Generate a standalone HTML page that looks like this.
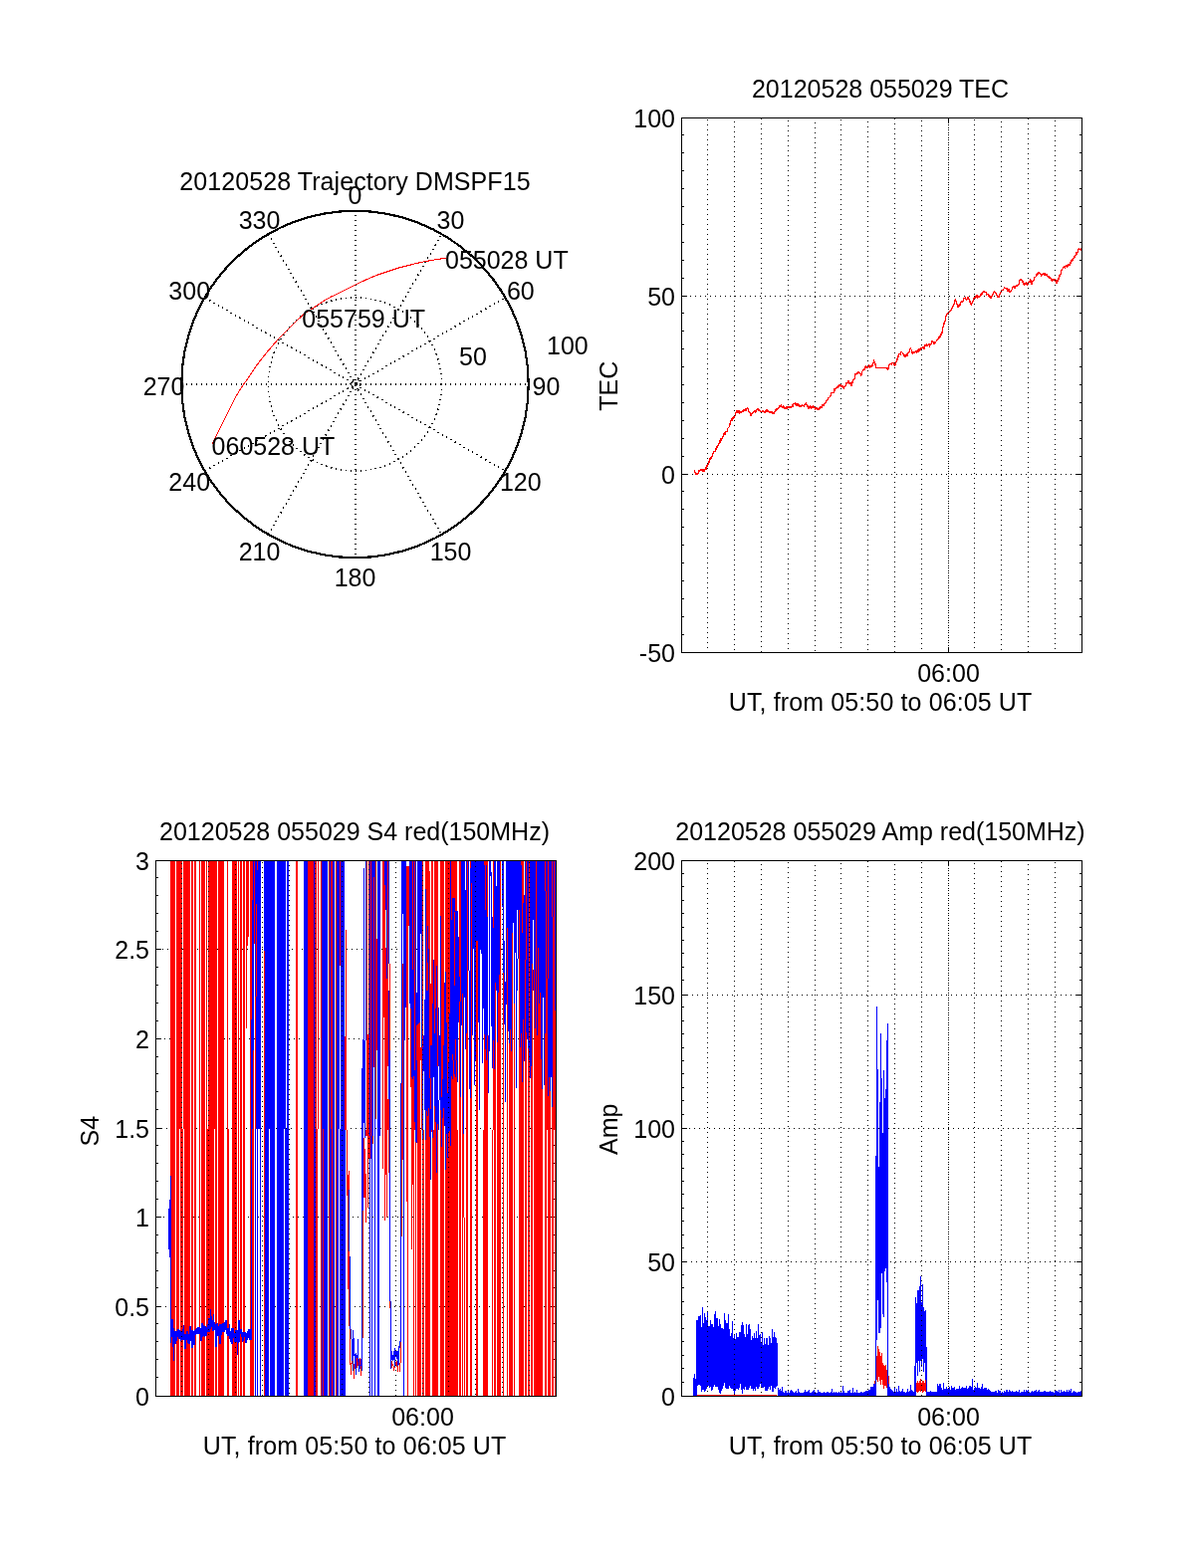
<!DOCTYPE html>
<html lang="en">
<head>
<meta charset="utf-8">
<title>20120528 055029 DMSPF15</title>
<style>
html,body{margin:0;padding:0;background:#fff;}
body{width:1200px;height:1575px;overflow:hidden;}
svg{display:block;font-family:"Liberation Sans",Arial,Helvetica,sans-serif;fill:#000;}
.c{shape-rendering:crispEdges;}
</style>
</head>
<body>
<svg width="1200" height="1575" viewBox="0 0 1200 1575" class="c">
<rect x="0" y="0" width="1200" height="1575" fill="#fff"/>
<line x1="357" y1="216" x2="357" y2="559" stroke="#000" stroke-width="2" stroke-dasharray="1 4"/>
<line x1="269.40" y1="536.86" x2="443.60" y2="235.14" stroke="#000" stroke-width="1.5" stroke-dasharray="1.4 3.6"/>
<line x1="205.64" y1="473.10" x2="507.36" y2="298.90" stroke="#000" stroke-width="1.5" stroke-dasharray="1.4 3.6"/>
<line x1="187" y1="386" x2="530" y2="386" stroke="#000" stroke-width="2" stroke-dasharray="1 4"/>
<line x1="205.64" y1="298.90" x2="507.36" y2="473.10" stroke="#000" stroke-width="1.5" stroke-dasharray="1.4 3.6"/>
<line x1="269.40" y1="235.14" x2="443.60" y2="536.86" stroke="#000" stroke-width="1.5" stroke-dasharray="1.4 3.6"/>
<circle cx="356.5" cy="386.0" r="87.10" fill="none" stroke="#000" stroke-width="1.5" stroke-dasharray="1.4 3.6"/>
<circle cx="357" cy="386" r="5" fill="none" stroke="#000" stroke-width="1.2" stroke-dasharray="2 3"/>
<rect x="356" y="384" width="3" height="3" fill="#000"/>
<circle cx="356.5" cy="386.0" r="174.2" fill="none" stroke="#000" stroke-width="2.2"/>
<path d="M447.5 259.2 L445.1 259.6 L441.8 260.1 L437.8 260.7 L433.7 261.4 L429.7 262.1 L426.3 262.7 L423.5 263.3 L420.9 263.9 L418.5 264.4 L416.2 265.0 L414.0 265.6 L411.7 266.2 L409.5 266.7 L407.5 267.2 L405.5 267.7 L403.5 268.2 L401.1 268.9 L398.3 269.7 L394.9 270.8 L391.1 272.1 L386.9 273.5 L382.7 274.9 L378.7 276.4 L375.0 277.8 L371.7 279.2 L368.6 280.5 L365.6 281.9 L362.7 283.2 L359.9 284.6 L357.0 286.0 L354.1 287.4 L351.1 288.9 L348.1 290.4 L345.3 291.9 L342.5 293.3 L340.0 294.6 L337.8 295.7 L335.8 296.6 L333.9 297.4 L332.1 298.3 L330.2 299.3 L328.0 300.5 L325.5 302.0 L322.7 303.8 L319.8 305.7 L316.9 307.6 L314.3 309.4 L312.0 311.0 L310.3 312.1 L309.1 312.8 L308.1 313.3 L307.0 314.1 L305.5 315.3 L303.3 317.2 L300.2 320.0 L296.5 323.5 L292.4 327.5 L288.1 331.7 L283.9 335.9 L280.0 340.0 L276.4 344.0 L272.8 348.2 L269.2 352.4 L265.9 356.5 L262.8 360.4 L260.0 364.0 L257.6 367.2 L255.4 370.3 L253.6 373.1 L251.9 375.6 L250.4 377.9 L249.0 380.0 L247.9 381.6 L247.0 382.8 L246.3 383.7 L245.7 384.6 L244.9 385.6 L244.0 387.0 L242.9 388.7 L241.7 390.5 L240.4 392.4 L239.1 394.6 L237.6 397.1 L236.0 400.0 L234.2 403.4 L232.2 407.4 L230.1 411.7 L227.9 416.0 L225.9 420.2 L224.0 424.0 L222.2 427.5 L220.5 430.9 L218.8 434.2 L217.3 437.2 L216.0 439.9 L215.0 442.0 L214.3 443.6 L213.9 444.7 L213.7 445.4 L213.7 445.8 L213.7 446.2 L213.6 446.5" fill="none" stroke="#f00" stroke-width="1.1"/>
<text x="356.5" y="204.5" text-anchor="middle" font-size="25">0</text>
<text x="452.5" y="230.2" text-anchor="middle" font-size="25">30</text>
<text x="522.8" y="300.5" text-anchor="middle" font-size="25">60</text>
<text x="548.5" y="396.5" text-anchor="middle" font-size="25">90</text>
<text x="522.8" y="492.5" text-anchor="middle" font-size="25">120</text>
<text x="452.5" y="562.8" text-anchor="middle" font-size="25">150</text>
<text x="356.5" y="588.5" text-anchor="middle" font-size="25">180</text>
<text x="260.5" y="562.8" text-anchor="middle" font-size="25">210</text>
<text x="190.2" y="492.5" text-anchor="middle" font-size="25">240</text>
<text x="164.5" y="396.5" text-anchor="middle" font-size="25">270</text>
<text x="190.2" y="300.5" text-anchor="middle" font-size="25">300</text>
<text x="260.5" y="230.2" text-anchor="middle" font-size="25">330</text>
<text x="461.0" y="367.0" text-anchor="start" font-size="25">50</text>
<text x="549.0" y="356.0" text-anchor="start" font-size="25">100</text>
<text x="447.0" y="269.8" text-anchor="start" font-size="25">055028 UT</text>
<text x="303.3" y="329.4" text-anchor="start" font-size="25">055759 UT</text>
<text x="212.6" y="457.2" text-anchor="start" font-size="25">060528 UT</text>
<text x="180.3" y="190.6" font-size="25" textLength="352.3" lengthAdjust="spacing">20120528 Trajectory DMSPF15</text>
<line x1="685" y1="476.5" x2="1086" y2="476.5" stroke="#000" stroke-width="1" stroke-dasharray="1 4"/>
<line x1="688" y1="297.5" x2="1086" y2="297.5" stroke="#000" stroke-width="1" stroke-dasharray="1 4"/>
<line x1="952.5" y1="120" x2="952.5" y2="655" stroke="#000" stroke-width="1" stroke-dasharray="1 4"/>
<rect x="685" y="297" width="5" height="1" fill="#000"/>
<rect x="1081" y="297" width="5" height="1" fill="#000"/>
<rect x="685" y="476" width="5" height="1" fill="#000"/>
<rect x="1081" y="476" width="5" height="1" fill="#000"/>
<rect x="685" y="135" width="2" height="1" fill="#000"/>
<rect x="1084" y="135" width="2" height="1" fill="#000"/>
<rect x="685" y="153" width="2" height="1" fill="#000"/>
<rect x="1084" y="153" width="2" height="1" fill="#000"/>
<rect x="685" y="171" width="2" height="1" fill="#000"/>
<rect x="1084" y="171" width="2" height="1" fill="#000"/>
<rect x="685" y="189" width="2" height="1" fill="#000"/>
<rect x="1084" y="189" width="2" height="1" fill="#000"/>
<rect x="685" y="207" width="2" height="1" fill="#000"/>
<rect x="1084" y="207" width="2" height="1" fill="#000"/>
<rect x="685" y="225" width="2" height="1" fill="#000"/>
<rect x="1084" y="225" width="2" height="1" fill="#000"/>
<rect x="685" y="243" width="2" height="1" fill="#000"/>
<rect x="1084" y="243" width="2" height="1" fill="#000"/>
<rect x="685" y="261" width="2" height="1" fill="#000"/>
<rect x="1084" y="261" width="2" height="1" fill="#000"/>
<rect x="685" y="279" width="2" height="1" fill="#000"/>
<rect x="1084" y="279" width="2" height="1" fill="#000"/>
<rect x="685" y="314" width="2" height="1" fill="#000"/>
<rect x="1084" y="314" width="2" height="1" fill="#000"/>
<rect x="685" y="332" width="2" height="1" fill="#000"/>
<rect x="1084" y="332" width="2" height="1" fill="#000"/>
<rect x="685" y="350" width="2" height="1" fill="#000"/>
<rect x="1084" y="350" width="2" height="1" fill="#000"/>
<rect x="685" y="368" width="2" height="1" fill="#000"/>
<rect x="1084" y="368" width="2" height="1" fill="#000"/>
<rect x="685" y="386" width="2" height="1" fill="#000"/>
<rect x="1084" y="386" width="2" height="1" fill="#000"/>
<rect x="685" y="404" width="2" height="1" fill="#000"/>
<rect x="1084" y="404" width="2" height="1" fill="#000"/>
<rect x="685" y="422" width="2" height="1" fill="#000"/>
<rect x="1084" y="422" width="2" height="1" fill="#000"/>
<rect x="685" y="440" width="2" height="1" fill="#000"/>
<rect x="1084" y="440" width="2" height="1" fill="#000"/>
<rect x="685" y="458" width="2" height="1" fill="#000"/>
<rect x="1084" y="458" width="2" height="1" fill="#000"/>
<rect x="685" y="493" width="2" height="1" fill="#000"/>
<rect x="1084" y="493" width="2" height="1" fill="#000"/>
<rect x="685" y="511" width="2" height="1" fill="#000"/>
<rect x="1084" y="511" width="2" height="1" fill="#000"/>
<rect x="685" y="529" width="2" height="1" fill="#000"/>
<rect x="1084" y="529" width="2" height="1" fill="#000"/>
<rect x="685" y="547" width="2" height="1" fill="#000"/>
<rect x="1084" y="547" width="2" height="1" fill="#000"/>
<rect x="685" y="565" width="2" height="1" fill="#000"/>
<rect x="1084" y="565" width="2" height="1" fill="#000"/>
<rect x="685" y="583" width="2" height="1" fill="#000"/>
<rect x="1084" y="583" width="2" height="1" fill="#000"/>
<rect x="685" y="601" width="2" height="1" fill="#000"/>
<rect x="1084" y="601" width="2" height="1" fill="#000"/>
<rect x="685" y="619" width="2" height="1" fill="#000"/>
<rect x="1084" y="619" width="2" height="1" fill="#000"/>
<rect x="685" y="637" width="2" height="1" fill="#000"/>
<rect x="1084" y="637" width="2" height="1" fill="#000"/>
<rect x="952" y="650" width="1" height="5" fill="#000"/>
<rect x="952" y="119" width="1" height="5" fill="#000"/>
<polyline points="697.1,472.6 697.5,473.8 697.9,474.6 698.4,475.6 698.8,475.6 699.2,476.7 699.6,475.4 700.0,475.5 700.5,476.5 700.9,475.2 701.4,475.6 701.8,472.8 702.2,473.4 702.7,472.4 703.1,472.9 703.6,472.5 704.0,471.3 704.5,471.2 704.9,471.5 705.4,473.6 705.9,473.3 706.3,471.6 706.8,473.7 707.2,471.9 707.7,473.2 708.1,471.0 708.5,469.7 709.0,471.4 709.4,468.5 709.8,467.6 710.2,468.1 710.7,467.6 711.2,464.8 711.6,465.8 712.1,463.6 712.6,463.0 713.0,460.5 713.5,461.7 714.0,459.6 714.5,460.1 714.9,459.2 715.4,456.7 715.9,456.1 716.3,454.8 716.8,454.1 717.2,453.1 717.7,453.5 718.2,453.1 718.7,450.3 719.1,451.4 719.6,449.5 720.1,448.4 720.5,449.0 721.0,447.1 721.5,446.0 722.0,445.4 722.4,445.3 722.9,442.5 723.4,444.5 723.8,440.9 724.3,442.3 724.7,441.8 725.2,439.4 725.7,440.1 726.2,438.0 726.6,437.9 727.1,435.4 727.6,434.7 728.0,434.3 728.5,435.9 729.0,433.3 729.4,433.8 729.9,433.6 730.3,432.9 730.8,430.4 731.2,429.7 731.7,429.5 732.1,429.0 732.6,426.0 733.0,426.3 733.5,424.9 734.0,422.9 734.5,420.5 734.9,422.6 735.4,419.4 735.9,419.5 736.3,419.7 736.8,420.0 737.2,417.6 737.7,418.0 738.1,416.8 738.5,415.3 739.0,414.6 739.4,413.3 739.8,412.2 740.2,412.3 740.7,413.5 741.1,414.7 741.6,412.4 742.0,412.3 742.5,415.4 742.9,414.3 743.4,414.3 743.8,413.4 744.3,414.3 744.7,414.8 745.2,413.5 745.6,413.2 746.1,412.0 746.5,413.6 747.0,411.3 747.4,412.3 747.9,413.0 748.4,410.4 748.8,411.9 749.3,412.1 749.7,410.8 750.2,410.3 750.7,409.6 751.2,411.4 751.6,411.3 752.1,414.1 752.6,413.3 753.0,414.5 753.5,416.9 754.0,416.6 754.5,417.2 754.9,415.3 755.4,415.0 755.9,415.3 756.3,414.2 756.8,413.2 757.2,413.2 757.7,412.7 758.2,412.4 758.6,414.0 759.1,413.6 759.5,412.3 760.0,411.6 760.4,410.8 760.9,410.5 761.4,410.6 761.9,412.3 762.3,412.8 762.8,411.5 763.3,413.0 763.8,413.2 764.2,413.2 764.7,413.4 765.2,413.4 765.7,412.7 766.1,413.7 766.6,412.4 767.0,413.1 767.5,413.9 767.9,413.7 768.4,412.5 768.8,414.4 769.2,413.5 769.7,413.3 770.1,411.6 770.6,413.2 771.0,412.4 771.5,413.3 772.0,413.1 772.4,414.3 772.9,413.9 773.3,414.5 773.8,413.2 774.2,414.2 774.7,414.6 775.1,415.0 775.6,413.7 776.0,415.3 776.5,414.8 777.0,414.5 777.4,414.9 777.9,414.3 778.4,412.6 778.8,412.1 779.3,410.5 779.7,412.1 780.2,411.1 780.7,410.1 781.2,410.2 781.6,409.9 782.1,409.4 782.6,407.3 783.0,408.7 783.5,407.6 784.0,407.1 784.5,407.0 784.9,408.0 785.4,408.9 785.9,408.9 786.3,409.5 786.8,407.8 787.2,408.6 787.7,409.9 788.2,410.5 788.6,409.2 789.1,410.6 789.5,410.4 790.0,408.6 790.4,409.9 790.9,409.2 791.3,408.7 791.8,408.9 792.2,409.5 792.6,409.0 793.1,409.1 793.5,408.6 794.0,410.0 794.5,409.1 794.9,409.2 795.4,408.6 795.9,407.0 796.3,408.5 796.8,405.2 797.2,405.9 797.7,405.3 798.2,405.5 798.7,404.8 799.1,407.1 799.6,405.9 800.1,405.0 800.5,406.9 801.0,405.5 801.5,407.0 802.0,406.6 802.4,407.4 802.9,408.7 803.4,408.5 803.8,407.4 804.3,408.7 804.7,408.4 805.2,407.9 805.7,406.7 806.2,407.8 806.6,407.4 807.1,408.2 807.6,407.9 808.0,406.6 808.5,405.5 809.0,406.1 809.4,404.7 809.8,405.7 810.2,407.7 810.7,408.5 811.1,407.7 811.5,409.6 812.0,410.5 812.4,408.8 812.9,408.8 813.3,408.1 813.8,408.2 814.2,410.1 814.7,408.2 815.1,409.8 815.6,409.6 816.0,408.5 816.5,407.8 817.0,409.8 817.4,408.7 817.9,408.7 818.3,408.7 818.8,411.0 819.2,409.8 819.7,409.4 820.1,410.3 820.6,409.5 821.0,411.3 821.5,411.1 822.0,410.2 822.4,411.3 822.9,411.0 823.3,408.2 823.8,409.3 824.2,408.2 824.7,409.8 825.1,408.9 825.6,406.9 826.0,406.6 826.5,406.5 827.0,407.8 827.4,405.2 827.9,405.6 828.4,404.6 828.8,404.6 829.3,403.9 829.7,403.8 830.2,402.0 830.6,402.8 831.0,400.9 831.5,401.1 831.9,399.9 832.3,399.3 832.7,399.4 833.2,398.6 833.7,397.6 834.1,398.0 834.6,396.8 835.1,394.4 835.5,394.4 836.0,394.3 836.5,394.2 837.0,394.2 837.4,392.6 837.9,390.4 838.4,392.0 838.8,390.4 839.3,390.2 839.7,389.9 840.2,388.9 840.7,388.4 841.2,389.5 841.6,387.7 842.1,387.5 842.6,388.6 843.0,386.4 843.5,386.5 844.0,387.3 844.5,385.9 844.9,388.5 845.4,388.4 845.9,387.9 846.3,387.8 846.8,389.6 847.2,390.3 847.7,389.0 848.2,388.5 848.7,388.0 849.1,387.0 849.6,385.7 850.1,384.4 850.5,384.9 851.0,384.8 851.5,382.6 852.0,382.8 852.4,385.0 852.9,385.4 853.4,385.5 853.8,384.1 854.3,386.6 854.7,387.9 855.2,387.5 855.7,386.2 856.2,382.9 856.6,383.9 857.1,380.7 857.6,380.6 858.0,380.2 858.5,378.2 859.0,375.8 859.4,375.3 859.8,376.9 860.2,374.2 860.7,375.3 861.1,374.4 861.5,374.0 861.9,375.1 862.4,373.7 862.8,374.3 863.3,375.5 863.7,374.9 864.2,375.2 864.6,377.0 865.0,376.7 865.4,376.1 865.9,373.0 866.3,372.9 866.7,371.6 867.1,371.3 867.5,370.8 868.0,371.8 868.4,369.7 868.9,368.4 869.3,369.9 869.7,367.9 870.2,369.0 870.6,368.3 871.1,369.1 871.5,367.6 872.0,368.0 872.4,367.1 872.9,368.1 873.4,367.4 873.8,369.0 874.3,368.5 874.7,367.5 875.2,368.4 875.6,367.3 876.0,367.3 876.5,364.6 876.9,365.2 877.3,364.0 877.7,362.0 878.2,364.7 878.7,364.7 879.1,366.5 879.6,369.4 880.1,369.4 880.5,369.4 881.0,369.4 881.4,369.4 881.9,369.4 882.3,369.4 882.8,369.4 883.2,369.4 883.7,369.4 884.1,369.4 884.6,369.4 885.1,369.4 885.5,369.4 886.0,369.4 886.4,369.4 886.9,369.4 887.3,369.4 887.8,369.4 888.2,369.4 888.7,369.4 889.1,369.4 889.6,369.5 890.1,369.4 890.5,370.0 891.0,369.7 891.5,371.6 892.0,370.1 892.5,369.0 892.9,366.4 893.4,365.4 893.9,365.2 894.3,365.5 894.8,365.5 895.3,366.1 895.7,365.2 896.2,364.4 896.7,364.3 897.1,364.9 897.6,364.5 898.1,367.2 898.5,366.0 899.0,366.5 899.4,363.5 899.9,363.8 900.3,363.9 900.8,361.9 901.2,360.2 901.7,359.2 902.1,357.6 902.5,356.4 903.0,355.8 903.4,355.8 903.9,355.2 904.3,356.1 904.8,353.3 905.2,353.4 905.6,353.7 906.0,354.0 906.5,355.0 906.9,355.4 907.3,356.8 907.7,356.9 908.2,358.5 908.7,356.6 909.1,358.1 909.6,357.1 910.1,356.8 910.5,356.0 911.0,357.2 911.5,355.1 911.9,355.3 912.3,353.3 912.8,353.6 913.2,353.0 913.6,350.4 914.0,350.2 914.4,349.8 914.9,351.0 915.3,351.2 915.8,352.8 916.2,355.2 916.7,354.0 917.1,354.8 917.6,354.6 918.0,353.7 918.5,354.7 919.0,354.0 919.5,352.5 919.9,352.5 920.4,353.5 920.8,354.1 921.3,353.0 921.7,352.1 922.2,353.5 922.6,350.4 923.1,350.3 923.5,352.3 924.0,351.1 924.4,349.6 924.9,350.8 925.3,351.9 925.8,350.2 926.2,349.4 926.7,348.4 927.1,348.1 927.5,350.3 928.0,348.8 928.4,349.9 928.9,347.0 929.3,347.3 929.8,346.4 930.2,347.4 930.7,346.1 931.2,346.6 931.6,347.0 932.1,346.6 932.6,345.8 933.0,345.7 933.5,348.4 934.0,346.5 934.4,346.3 934.8,345.3 935.2,345.1 935.7,343.1 936.1,343.2 936.5,342.6 936.9,343.5 937.3,345.0 937.8,344.3 938.2,345.4 938.6,343.8 939.0,344.4 939.4,344.3 939.8,343.3 940.2,342.7 940.7,341.3 941.1,341.2 941.5,340.3 941.9,341.0 942.4,338.9 942.8,339.0 943.3,339.9 943.7,337.8 944.2,337.2 944.6,337.9 945.0,335.3 945.5,335.9 945.9,334.5 946.4,331.5 946.8,329.4 947.3,327.8 947.7,327.2 948.1,324.6 948.5,324.0 949.0,322.7 949.4,320.1 949.8,317.9 950.2,317.7 950.7,315.5 951.1,315.3 951.6,315.0 952.0,314.6 952.5,313.2 952.9,313.5 953.4,312.6 953.8,313.2 954.3,312.0 954.7,312.4 955.2,310.8 955.6,310.4 956.1,308.8 956.5,307.4 957.0,307.6 957.4,306.1 957.8,306.0 958.3,304.3 958.7,303.2 959.2,300.9 959.6,301.0 960.1,302.3 960.5,303.5 961.0,305.4 961.5,308.3 961.9,307.5 962.4,308.3 962.8,306.7 963.3,305.6 963.7,307.3 964.2,306.2 964.6,305.0 965.0,303.5 965.5,302.9 965.9,302.8 966.4,303.5 966.8,302.9 967.3,301.1 967.7,299.7 968.2,299.8 968.6,299.6 969.1,299.5 969.5,298.5 970.0,300.3 970.4,301.0 970.9,300.7 971.3,298.8 971.8,300.1 972.2,299.0 972.7,300.3 973.1,300.9 973.5,303.4 974.0,304.0 974.4,303.0 974.8,304.6 975.2,306.7 975.7,305.0 976.1,303.9 976.6,302.8 977.0,302.7 977.5,302.2 977.9,299.9 978.4,299.3 978.9,298.9 979.3,297.3 979.8,299.3 980.3,298.1 980.7,296.9 981.2,299.5 981.7,296.6 982.1,298.1 982.6,297.7 983.1,298.8 983.5,297.3 984.0,297.2 984.4,296.3 984.9,295.5 985.3,296.0 985.8,294.8 986.2,295.5 986.6,293.4 987.1,293.1 987.5,292.3 988.0,293.9 988.4,292.3 988.8,293.6 989.3,293.5 989.7,293.4 990.2,293.3 990.6,296.0 991.1,295.6 991.5,295.6 992.0,295.5 992.4,295.6 992.9,297.8 993.4,298.7 993.8,296.9 994.3,299.0 994.7,297.9 995.2,298.9 995.7,299.0 996.1,297.5 996.6,297.2 997.0,295.1 997.5,293.2 997.9,293.9 998.4,293.2 998.9,292.9 999.3,294.2 999.8,294.7 1000.2,294.5 1000.7,296.0 1001.2,296.9 1001.6,297.9 1002.1,298.9 1002.5,297.5 1003.0,298.4 1003.4,297.0 1003.9,296.4 1004.3,294.8 1004.8,293.9 1005.2,292.5 1005.7,293.1 1006.1,291.5 1006.6,291.9 1007.0,291.9 1007.5,291.2 1007.9,290.2 1008.4,289.3 1008.8,289.0 1009.3,289.5 1009.7,289.9 1010.2,289.7 1010.7,290.4 1011.2,289.6 1011.6,291.9 1012.1,290.3 1012.6,292.0 1013.0,290.4 1013.5,292.9 1014.0,292.7 1014.5,293.3 1014.9,292.6 1015.4,291.4 1015.9,291.3 1016.3,290.5 1016.8,289.5 1017.2,287.8 1017.7,288.1 1018.2,289.2 1018.7,287.2 1019.1,289.3 1019.6,287.9 1020.1,287.4 1020.5,286.2 1021.0,287.2 1021.5,287.1 1022.0,287.0 1022.4,286.8 1022.9,285.9 1023.4,284.1 1023.8,282.5 1024.3,280.7 1024.7,281.5 1025.2,280.1 1025.6,281.5 1026.0,281.3 1026.5,283.7 1026.9,282.5 1027.3,283.6 1027.7,284.7 1028.1,285.4 1028.6,286.2 1029.0,284.0 1029.5,285.4 1029.9,285.8 1030.3,284.2 1030.8,283.7 1031.2,285.2 1031.7,286.0 1032.1,285.5 1032.5,285.1 1032.9,283.5 1033.3,282.9 1033.8,282.6 1034.2,283.0 1034.6,281.0 1035.1,281.6 1035.5,283.7 1036.0,285.9 1036.5,285.2 1036.9,283.0 1037.3,282.1 1037.8,282.3 1038.2,281.3 1038.6,278.9 1039.0,278.3 1039.4,278.4 1039.9,278.0 1040.3,277.6 1040.8,277.1 1041.2,274.6 1041.6,275.3 1042.1,275.8 1042.5,275.6 1043.0,273.1 1043.4,273.5 1043.8,274.2 1044.2,275.6 1044.7,274.2 1045.1,276.2 1045.5,277.3 1045.9,276.9 1046.4,275.5 1046.8,275.6 1047.3,275.4 1047.7,275.0 1048.2,275.0 1048.6,276.2 1049.1,274.5 1049.5,276.3 1050.0,276.1 1050.4,276.1 1050.9,275.4 1051.4,276.3 1051.8,277.5 1052.3,278.3 1052.7,277.9 1053.2,279.5 1053.6,277.6 1054.1,278.2 1054.5,278.7 1055.0,279.8 1055.4,280.9 1055.9,281.9 1056.3,282.3 1056.8,282.3 1057.2,280.1 1057.7,280.9 1058.1,281.1 1058.6,280.4 1059.0,280.1 1059.4,281.4 1059.8,281.3 1060.2,282.7 1060.7,282.7 1061.1,284.6 1061.5,284.2 1061.9,281.3 1062.4,282.3 1062.8,281.0 1063.3,278.6 1063.7,277.0 1064.2,277.0 1064.6,275.5 1065.0,275.5 1065.5,274.9 1065.9,272.2 1066.4,270.8 1066.8,270.3 1067.3,269.8 1067.7,268.4 1068.1,268.3 1068.6,267.4 1069.0,267.4 1069.5,268.9 1069.9,267.9 1070.3,266.4 1070.8,267.4 1071.2,266.8 1071.7,268.1 1072.1,267.0 1072.6,266.2 1073.0,265.1 1073.5,265.7 1073.9,266.6 1074.4,264.7 1074.9,263.6 1075.3,264.7 1075.8,261.6 1076.2,261.8 1076.7,262.6 1077.2,259.6 1077.6,261.3 1078.1,259.5 1078.5,257.8 1079.0,258.4 1079.5,257.7 1079.9,256.7 1080.4,256.2 1080.8,254.0 1081.3,253.6 1081.7,255.1 1082.2,252.6 1082.6,251.9 1083.1,249.8 1083.5,249.6 1084.0,249.9 1084.5,250.6 1085.0,250.7 1085.4,249.9 1085.9,251.9" fill="none" stroke="#f00" stroke-width="1.25" stroke-linejoin="round"/>
<line x1="710.5" y1="120" x2="710.5" y2="655" stroke="#000" stroke-width="1" stroke-dasharray="1 4"/>
<line x1="737.5" y1="122" x2="737.5" y2="655" stroke="#000" stroke-width="1" stroke-dasharray="1 4"/>
<line x1="764.5" y1="119" x2="764.5" y2="655" stroke="#000" stroke-width="1" stroke-dasharray="1 4"/>
<line x1="791.5" y1="121" x2="791.5" y2="655" stroke="#000" stroke-width="1" stroke-dasharray="1 4"/>
<line x1="818.5" y1="123" x2="818.5" y2="655" stroke="#000" stroke-width="1" stroke-dasharray="1 4"/>
<line x1="844.5" y1="120" x2="844.5" y2="655" stroke="#000" stroke-width="1" stroke-dasharray="1 4"/>
<line x1="871.5" y1="122" x2="871.5" y2="655" stroke="#000" stroke-width="1" stroke-dasharray="1 4"/>
<line x1="898.5" y1="119" x2="898.5" y2="655" stroke="#000" stroke-width="1" stroke-dasharray="1 4"/>
<line x1="925.5" y1="121" x2="925.5" y2="655" stroke="#000" stroke-width="1" stroke-dasharray="1 4"/>
<line x1="952.5" y1="123" x2="952.5" y2="655" stroke="#000" stroke-width="1" stroke-dasharray="1 4"/>
<line x1="978.5" y1="120" x2="978.5" y2="655" stroke="#000" stroke-width="1" stroke-dasharray="1 4"/>
<line x1="1005.5" y1="122" x2="1005.5" y2="655" stroke="#000" stroke-width="1" stroke-dasharray="1 4"/>
<line x1="1032.5" y1="119" x2="1032.5" y2="655" stroke="#000" stroke-width="1" stroke-dasharray="1 4"/>
<line x1="1059.5" y1="121" x2="1059.5" y2="655" stroke="#000" stroke-width="1" stroke-dasharray="1 4"/>
<rect x="684" y="118" width="403" height="1" fill="#000"/>
<rect x="684" y="655" width="403" height="1" fill="#000"/>
<rect x="684" y="118" width="1" height="538" fill="#000"/>
<rect x="1086" y="118" width="1" height="538" fill="#000"/>
<text x="678" y="127.5" text-anchor="end" font-size="25">100</text>
<text x="678" y="306.5" text-anchor="end" font-size="25">50</text>
<text x="678" y="485.5" text-anchor="end" font-size="25">0</text>
<text x="678" y="664.5" text-anchor="end" font-size="25">-50</text>
<text x="952.5" y="685" text-anchor="middle" font-size="25">06:00</text>
<text x="731.8" y="713.5" font-size="25" textLength="304.5" lengthAdjust="spacing">UT, from 05:50 to 06:05 UT</text>
<text x="884.0" y="97.5" text-anchor="middle" font-size="25">20120528 055029 TEC</text>
<text x="619.7" y="387.7" text-anchor="middle" font-size="25" transform="rotate(-90 619.7 387.7)">TEC</text>
<line x1="161" y1="1312.5" x2="558" y2="1312.5" stroke="#000" stroke-width="1" stroke-dasharray="1 4"/>
<line x1="159" y1="1222.5" x2="558" y2="1222.5" stroke="#000" stroke-width="1" stroke-dasharray="1 4"/>
<line x1="157" y1="1133.5" x2="558" y2="1133.5" stroke="#000" stroke-width="1" stroke-dasharray="1 4"/>
<line x1="160" y1="1043.5" x2="558" y2="1043.5" stroke="#000" stroke-width="1" stroke-dasharray="1 4"/>
<line x1="158" y1="953.5" x2="558" y2="953.5" stroke="#000" stroke-width="1" stroke-dasharray="1 4"/>
<line x1="424.5" y1="867" x2="424.5" y2="1402" stroke="#000" stroke-width="1" stroke-dasharray="1 4"/>
<rect x="157" y="953" width="5" height="1" fill="#000"/>
<rect x="553" y="953" width="5" height="1" fill="#000"/>
<rect x="157" y="1043" width="5" height="1" fill="#000"/>
<rect x="553" y="1043" width="5" height="1" fill="#000"/>
<rect x="157" y="1133" width="5" height="1" fill="#000"/>
<rect x="553" y="1133" width="5" height="1" fill="#000"/>
<rect x="157" y="1222" width="5" height="1" fill="#000"/>
<rect x="553" y="1222" width="5" height="1" fill="#000"/>
<rect x="157" y="1312" width="5" height="1" fill="#000"/>
<rect x="553" y="1312" width="5" height="1" fill="#000"/>
<rect x="157" y="1383" width="2" height="1" fill="#000"/>
<rect x="556" y="1383" width="2" height="1" fill="#000"/>
<rect x="157" y="1365" width="2" height="1" fill="#000"/>
<rect x="556" y="1365" width="2" height="1" fill="#000"/>
<rect x="157" y="1347" width="2" height="1" fill="#000"/>
<rect x="556" y="1347" width="2" height="1" fill="#000"/>
<rect x="157" y="1329" width="2" height="1" fill="#000"/>
<rect x="556" y="1329" width="2" height="1" fill="#000"/>
<rect x="157" y="1293" width="2" height="1" fill="#000"/>
<rect x="556" y="1293" width="2" height="1" fill="#000"/>
<rect x="157" y="1276" width="2" height="1" fill="#000"/>
<rect x="556" y="1276" width="2" height="1" fill="#000"/>
<rect x="157" y="1258" width="2" height="1" fill="#000"/>
<rect x="556" y="1258" width="2" height="1" fill="#000"/>
<rect x="157" y="1240" width="2" height="1" fill="#000"/>
<rect x="556" y="1240" width="2" height="1" fill="#000"/>
<rect x="157" y="1204" width="2" height="1" fill="#000"/>
<rect x="556" y="1204" width="2" height="1" fill="#000"/>
<rect x="157" y="1186" width="2" height="1" fill="#000"/>
<rect x="556" y="1186" width="2" height="1" fill="#000"/>
<rect x="157" y="1168" width="2" height="1" fill="#000"/>
<rect x="556" y="1168" width="2" height="1" fill="#000"/>
<rect x="157" y="1150" width="2" height="1" fill="#000"/>
<rect x="556" y="1150" width="2" height="1" fill="#000"/>
<rect x="157" y="1114" width="2" height="1" fill="#000"/>
<rect x="556" y="1114" width="2" height="1" fill="#000"/>
<rect x="157" y="1096" width="2" height="1" fill="#000"/>
<rect x="556" y="1096" width="2" height="1" fill="#000"/>
<rect x="157" y="1078" width="2" height="1" fill="#000"/>
<rect x="556" y="1078" width="2" height="1" fill="#000"/>
<rect x="157" y="1061" width="2" height="1" fill="#000"/>
<rect x="556" y="1061" width="2" height="1" fill="#000"/>
<rect x="157" y="1025" width="2" height="1" fill="#000"/>
<rect x="556" y="1025" width="2" height="1" fill="#000"/>
<rect x="157" y="1007" width="2" height="1" fill="#000"/>
<rect x="556" y="1007" width="2" height="1" fill="#000"/>
<rect x="157" y="989" width="2" height="1" fill="#000"/>
<rect x="556" y="989" width="2" height="1" fill="#000"/>
<rect x="157" y="971" width="2" height="1" fill="#000"/>
<rect x="556" y="971" width="2" height="1" fill="#000"/>
<rect x="157" y="935" width="2" height="1" fill="#000"/>
<rect x="556" y="935" width="2" height="1" fill="#000"/>
<rect x="157" y="917" width="2" height="1" fill="#000"/>
<rect x="556" y="917" width="2" height="1" fill="#000"/>
<rect x="157" y="899" width="2" height="1" fill="#000"/>
<rect x="556" y="899" width="2" height="1" fill="#000"/>
<rect x="157" y="881" width="2" height="1" fill="#000"/>
<rect x="556" y="881" width="2" height="1" fill="#000"/>
<rect x="424" y="1397" width="1" height="5" fill="#000"/>
<rect x="424" y="865" width="1" height="5" fill="#000"/>
<path d="M486 865h1v4h-1zM488 865h1v4h-1zM523 865h1v4h-1zM472 865h1v7h-1zM258 865h1v9h-1zM427 865h1v28h-1zM547 865h1v30h-1zM454 865h3v37h-3zM253 865h1v39h-1zM525 865h1v42h-1zM487 865h1v49h-1zM457 865h2v50h-2zM442 865h1v55h-1zM489 865h1v56h-1zM554 865h1v56h-1zM453 865h1v59h-1zM429 865h1v65h-1zM495 865h1v67h-1zM524 865h1v72h-1zM249 865h1v76h-1zM255 865h1v83h-1zM248 865h1v85h-1zM430 865h1v88h-1zM528 865h1v99h-1zM341 865h1v105h-1zM438 865h1v105h-1zM414 865h1v109h-1zM447 865h1v111h-1zM461 865h1v116h-1zM550 865h1v118h-1zM428 865h1v130h-1zM462 865h1v141h-1zM434 865h1v143h-1zM437 865h1v148h-1zM451 865h1v153h-1zM385 865h1v157h-1zM252 865h1v159h-1zM448 865h1v162h-1zM247 865h1v168h-1zM436 865h1v173h-1zM531 865h1v180h-1zM433 865h1v185h-1zM445 865h1v185h-1zM424 865h1v187h-1zM450 865h1v202h-1zM389 865h1v206h-1zM439 865h1v206h-1zM416 865h1v210h-1zM444 865h1v219h-1zM449 865h1v233h-1zM443 865h1v237h-1zM377 865h1v259h-1zM180 865h1v269h-1zM184 865h1v269h-1zM215 865h1v269h-1zM316 865h1v269h-1zM319 865h1v269h-1zM332 865h1v269h-1zM556 865h1v270h-1zM368 865h1v276h-1zM372 865h1v276h-1zM370 865h1v299h-1zM384 865h1v309h-1zM171 865h1v316h-1zM211 865h1v450h-1zM214 865h1v455h-1zM212 865h1v457h-1zM209 865h2v459h-2zM172 865h2v460h-2zM213 865h1v461h-1zM239 865h1v461h-1zM202 865h2v464h-2zM217 865h1v464h-1zM223 865h2v464h-2zM216 865h1v465h-1zM220 865h3v465h-3zM204 865h1v466h-1zM190 865h1v467h-1zM205 865h1v467h-1zM219 865h1v467h-1zM200 865h1v468h-1zM207 865h1v468h-1zM174 865h1v469h-1zM228 865h1v469h-1zM233 865h2v469h-2zM178 865h2v470h-2zM196 865h1v470h-1zM241 865h2v470h-2zM251 865h1v470h-1zM192 865h2v471h-2zM195 865h1v471h-1zM236 865h2v471h-2zM175 865h1v472h-1zM177 865h1v472h-1zM181 865h2v472h-2zM187 865h2v472h-2zM244 865h2v473h-2zM235 865h1v474h-1zM185 865h2v475h-2zM189 865h1v475h-1zM297 865h2v537h-2zM309 865h6v537h-6zM317 865h1v537h-1zM322 865h1v537h-1zM330 865h1v537h-1zM333 865h1v537h-1zM337 865h1v537h-1zM469 865h1v537h-1zM502 865h1v537h-1zM538 865h1v537h-1zM410 870h1v60h-1zM408 870h1v337h-1zM409 870h1v532h-1zM431 875h1v208h-1zM375 881h1v191h-1zM473 887h1v515h-1zM386 889h1v337h-1zM548 895h1v507h-1zM257 908h1v93h-1zM521 914h1v488h-1zM456 916h1v74h-1zM555 921h1v481h-1zM509 932h1v470h-1zM347 934h1v201h-1zM514 937h1v465h-1zM378 943h1v112h-1zM478 945h2v457h-2zM387 952h1v228h-1zM540 952h1v450h-1zM265 955h1v447h-1zM527 964h1v438h-1zM429 967h1v28h-1zM391 968h1v87h-1zM404 968h1v197h-1zM534 968h1v434h-1zM536 974h1v428h-1zM505 977h1v425h-1zM501 979h1v423h-1zM549 983h1v152h-1zM388 983h1v240h-1zM497 987h1v415h-1zM432 988h1v62h-1zM500 997h1v405h-1zM542 997h1v405h-1zM464 998h1v404h-1zM256 1001h1v133h-1zM461 1006h1v396h-1zM516 1008h1v394h-1zM541 1008h1v394h-1zM412 1013h1v79h-1zM557 1015h1v387h-1zM525 1024h1v378h-1zM421 1027h1v375h-1zM420 1028h1v374h-1zM419 1029h1v373h-1zM418 1030h1v35h-1zM537 1033h1v369h-1zM512 1034h1v368h-1zM528 1037h1v365h-1zM468 1038h1v364h-1zM523 1038h1v364h-1zM547 1038h1v364h-1zM369 1039h1v174h-1zM486 1039h1v363h-1zM489 1040h1v362h-1zM539 1040h1v362h-1zM346 1041h1v94h-1zM457 1044h1v21h-1zM495 1045h1v90h-1zM499 1047h1v355h-1zM511 1048h1v354h-1zM422 1052h1v13h-1zM423 1052h1v83h-1zM522 1052h1v350h-1zM530 1053h1v349h-1zM487 1054h1v348h-1zM254 1055h1v347h-1zM513 1056h1v346h-1zM454 1059h1v6h-1zM543 1064h1v338h-1zM455 1065h1v337h-1zM458 1065h1v337h-1zM488 1065h1v337h-1zM531 1065h1v337h-1zM533 1071h1v331h-1zM496 1074h1v328h-1zM456 1079h1v323h-1zM415 1081h1v321h-1zM453 1081h1v321h-1zM413 1082h1v173h-1zM457 1082h1v320h-1zM551 1082h1v320h-1zM432 1083h1v31h-1zM414 1084h1v106h-1zM454 1084h1v318h-1zM524 1087h1v315h-1zM403 1088h1v154h-1zM544 1094h1v308h-1zM552 1096h1v306h-1zM550 1101h1v301h-1zM462 1102h1v300h-1zM472 1103h1v299h-1zM389 1104h1v31h-1zM390 1104h1v74h-1zM436 1111h1v291h-1zM554 1112h1v290h-1zM430 1113h1v289h-1zM445 1113h1v289h-1zM442 1115h1v287h-1zM428 1116h1v286h-1zM429 1121h1v281h-1zM444 1123h1v279h-1zM416 1127h1v8h-1zM437 1127h1v275h-1zM439 1129h1v273h-1zM208 1134h1v196h-1zM229 1134h1v200h-1zM183 1134h1v201h-1zM253 1134h1v268h-1zM318 1134h1v268h-1zM324 1134h1v268h-1zM433 1135h1v2h-1zM367 1135h1v6h-1zM348 1135h1v66h-1zM422 1135h1v267h-1zM425 1135h1v267h-1zM435 1135h1v267h-1zM459 1135h1v267h-1zM485 1135h1v267h-1zM494 1135h1v267h-1zM451 1136h1v266h-1zM450 1137h1v265h-1zM465 1139h1v84h-1zM448 1139h1v263h-1zM374 1141h1v8h-1zM371 1141h1v23h-1zM431 1142h1v260h-1zM365 1143h1v60h-1zM434 1143h1v259h-1zM424 1144h1v258h-1zM427 1145h1v257h-1zM417 1147h1v255h-1zM452 1151h1v251h-1zM443 1152h1v250h-1zM366 1154h1v49h-1zM449 1163h1v239h-1zM447 1175h1v227h-1zM350 1176h1v19h-1zM438 1178h1v224h-1zM367 1179h1v49h-1zM349 1180h1v115h-1zM364 1216h1v128h-1zM466 1223h1v179h-1zM350 1257h1v75h-1zM391 1307h1v7h-1zM212 1333h1v69h-1zM351 1335h1v36h-1zM211 1335h1v67h-1zM213 1337h2v65h-2zM208 1338h3v64h-3zM223 1338h2v64h-2zM200 1340h1v62h-1zM241 1340h1v62h-1zM196 1341h1v61h-1zM222 1341h1v61h-1zM204 1342h1v60h-1zM207 1342h1v60h-1zM219 1342h1v60h-1zM228 1342h2v60h-2zM172 1343h1v59h-1zM178 1343h1v59h-1zM203 1343h1v59h-1zM205 1343h1v59h-1zM242 1343h1v59h-1zM245 1343h1v59h-1zM234 1344h1v58h-1zM179 1345h1v57h-1zM182 1346h2v56h-2zM187 1346h1v56h-1zM251 1346h2v56h-2zM177 1347h1v55h-1zM181 1347h1v55h-1zM202 1347h1v55h-1zM244 1347h1v55h-1zM402 1348h1v21h-1zM235 1348h3v54h-3zM171 1349h1v53h-1zM188 1349h1v53h-1zM239 1349h1v53h-1zM175 1350h1v52h-1zM189 1350h2v52h-2zM220 1350h2v52h-2zM233 1350h1v52h-1zM195 1351h1v51h-1zM173 1353h1v49h-1zM216 1353h2v49h-2zM192 1354h2v48h-2zM185 1355h2v47h-2zM361 1364h1v7h-1zM358 1364h1v10h-1zM353 1367h1v3h-1zM398 1367h1v6h-1zM393 1367h1v7h-1zM174 1367h1v35h-1zM359 1368h1v4h-1zM397 1368h1v4h-1zM401 1369h1v9h-1zM352 1369h1v12h-1zM394 1370h1v2h-1zM355 1370h1v15h-1zM395 1372h1v5h-1zM399 1372h1v6h-1zM362 1372h1v10h-1zM396 1373h1v1h-1z" fill="#f00"/>
<path d="M492 865h1v15h-1zM375 865h1v16h-1zM473 865h1v22h-1zM386 865h1v24h-1zM548 865h1v30h-1zM257 865h1v43h-1zM504 865h1v46h-1zM387 865h1v49h-1zM519 865h1v49h-1zM521 865h1v49h-1zM404 865h1v53h-1zM555 865h1v56h-1zM535 865h1v59h-1zM515 865h1v62h-1zM509 865h1v67h-1zM514 865h1v72h-1zM422 865h1v73h-1zM478 865h2v80h-2zM540 865h1v87h-1zM475 865h1v88h-1zM482 865h1v89h-1zM265 865h1v90h-1zM517 865h1v92h-1zM483 865h1v93h-1zM520 865h1v98h-1zM527 865h1v99h-1zM390 865h1v103h-1zM534 865h1v103h-1zM536 865h1v109h-1zM470 865h1v110h-1zM505 865h1v112h-1zM501 865h1v114h-1zM388 865h1v118h-1zM549 865h1v118h-1zM497 865h1v122h-1zM500 865h1v132h-1zM542 865h1v132h-1zM464 865h1v133h-1zM256 865h1v136h-1zM466 865h1v137h-1zM545 865h1v137h-1zM411 865h1v143h-1zM516 865h1v143h-1zM541 865h1v143h-1zM508 865h1v144h-1zM407 865h1v147h-1zM412 865h1v148h-1zM485 865h1v148h-1zM557 865h1v150h-1zM421 865h1v162h-1zM480 865h1v162h-1zM420 865h1v163h-1zM419 865h1v164h-1zM463 865h1v165h-1zM537 865h1v168h-1zM512 865h1v169h-1zM510 865h1v171h-1zM468 865h1v173h-1zM474 865h1v175h-1zM539 865h1v175h-1zM529 865h1v179h-1zM367 865h1v180h-1zM406 865h1v180h-1zM499 865h1v182h-1zM511 865h1v183h-1zM423 865h1v187h-1zM522 865h1v187h-1zM530 865h1v188h-1zM254 865h1v190h-1zM491 865h1v191h-1zM513 865h1v191h-1zM543 865h1v199h-1zM477 865h1v200h-1zM484 865h1v203h-1zM533 865h1v206h-1zM496 865h1v209h-1zM415 865h1v216h-1zM413 865h1v217h-1zM551 865h1v217h-1zM553 865h1v217h-1zM532 865h1v218h-1zM403 865h1v223h-1zM476 865h1v225h-1zM546 865h1v225h-1zM518 865h1v228h-1zM544 865h1v229h-1zM552 865h1v231h-1zM481 865h1v250h-1zM259 865h2v269h-2zM270 865h1v269h-1zM285 865h1v269h-1zM324 865h1v269h-1zM340 865h1v269h-1zM465 865h1v274h-1zM371 865h1v276h-1zM374 865h1v276h-1zM381 865h1v276h-1zM417 865h1v282h-1zM452 865h1v286h-1zM261 865h1v537h-1zM266 865h4v537h-4zM271 865h5v537h-5zM278 865h7v537h-7zM286 865h1v537h-1zM288 865h2v537h-2zM305 865h4v537h-4zM315 865h1v537h-1zM323 865h1v537h-1zM325 865h4v537h-4zM331 865h1v537h-1zM334 865h2v537h-2zM338 865h2v537h-2zM342 865h4v537h-4zM373 865h1v537h-1zM376 865h1v537h-1zM379 865h2v537h-2zM405 865h1v537h-1zM523 869h1v169h-1zM486 869h1v170h-1zM488 869h1v196h-1zM472 872h1v231h-1zM365 872h1v256h-1zM258 874h1v528h-1zM493 876h1v155h-1zM498 890h1v105h-1zM427 893h1v252h-1zM467 894h1v160h-1zM547 895h1v143h-1zM526 899h1v167h-1zM456 902h1v14h-1zM454 902h1v157h-1zM455 902h1v163h-1zM253 904h1v230h-1zM525 907h1v117h-1zM487 914h1v140h-1zM457 915h1v129h-1zM458 915h1v150h-1zM459 915h1v172h-1zM442 920h1v195h-1zM489 921h1v119h-1zM494 921h1v152h-1zM554 921h1v191h-1zM453 924h1v157h-1zM429 930h1v37h-1zM495 932h1v113h-1zM524 937h1v150h-1zM460 941h1v86h-1zM506 945h1v84h-1zM430 953h1v160h-1zM519 963h1v32h-1zM528 964h1v73h-1zM435 964h1v118h-1zM438 970h1v208h-1zM535 974h1v21h-1zM414 974h1v110h-1zM471 975h1v119h-1zM447 976h1v199h-1zM461 981h1v25h-1zM550 983h1v118h-1zM507 986h1v121h-1zM446 987h1v144h-1zM456 990h1v89h-1zM390 995h1v109h-1zM428 995h1v121h-1zM429 995h1v126h-1zM418 997h1v33h-1zM257 1001h1v133h-1zM426 1004h1v111h-1zM462 1006h1v96h-1zM434 1008h1v135h-1zM440 1012h1v59h-1zM437 1013h1v114h-1zM451 1018h1v118h-1zM252 1024h1v322h-1zM448 1027h1v112h-1zM436 1038h1v73h-1zM425 1040h1v36h-1zM490 1040h1v58h-1zM441 1040h1v65h-1zM364 1044h1v172h-1zM531 1045h1v20h-1zM366 1045h1v98h-1zM432 1050h1v33h-1zM445 1050h1v63h-1zM433 1050h1v85h-1zM424 1052h1v92h-1zM391 1055h1v252h-1zM457 1065h1v17h-1zM454 1065h1v19h-1zM418 1065h1v83h-1zM450 1067h1v70h-1zM439 1071h1v58h-1zM363 1073h1v304h-1zM416 1075h1v52h-1zM431 1083h1v59h-1zM444 1084h1v39h-1zM402 1088h1v260h-1zM449 1098h1v65h-1zM443 1102h1v50h-1zM440 1105h1v30h-1zM432 1114h1v71h-1zM256 1134h1v268h-1zM287 1134h1v268h-1zM316 1134h1v268h-1zM332 1134h1v268h-1zM341 1134h1v268h-1zM346 1135h1v267h-1zM372 1141h1v23h-1zM371 1164h1v238h-1zM171 1181h1v168h-1zM350 1195h1v62h-1zM170 1205h1v58h-1zM169 1214h1v41h-1zM351 1262h1v73h-1zM392 1307h1v68h-1zM211 1315h1v20h-1zM214 1320h1v17h-1zM212 1322h1v11h-1zM209 1324h2v14h-2zM172 1325h1v18h-1zM173 1325h1v28h-1zM226 1326h1v10h-1zM213 1326h1v11h-1zM227 1326h1v14h-1zM240 1326h1v22h-1zM239 1326h1v23h-1zM215 1328h1v8h-1zM225 1328h1v10h-1zM223 1329h2v9h-2zM218 1329h1v13h-1zM203 1329h1v14h-1zM202 1329h1v18h-1zM217 1329h1v24h-1zM208 1330h1v8h-1zM222 1330h1v11h-1zM230 1330h1v15h-1zM220 1330h2v20h-2zM216 1330h1v23h-1zM204 1331h1v11h-1zM184 1331h1v15h-1zM206 1332h1v10h-1zM219 1332h1v10h-1zM205 1332h1v11h-1zM191 1332h1v15h-1zM190 1332h1v18h-1zM198 1333h3v7h-3zM207 1333h1v9h-1zM197 1334h1v6h-1zM228 1334h2v8h-2zM234 1334h1v10h-1zM201 1334h1v13h-1zM232 1334h2v16h-2zM174 1334h1v33h-1zM241 1335h1v5h-1zM196 1335h1v6h-1zM178 1335h1v8h-1zM242 1335h1v8h-1zM249 1335h1v9h-1zM179 1335h1v10h-1zM352 1335h1v10h-1zM183 1335h1v11h-1zM250 1335h2v11h-2zM180 1336h1v9h-1zM236 1336h2v12h-2zM195 1336h1v15h-1zM192 1336h2v18h-2zM238 1336h1v25h-1zM354 1336h1v41h-1zM182 1337h1v9h-1zM187 1337h1v9h-1zM248 1337h1v9h-1zM177 1337h1v10h-1zM181 1337h1v10h-1zM231 1337h1v11h-1zM188 1337h1v12h-1zM175 1337h2v13h-2zM194 1337h1v14h-1zM245 1338h1v5h-1zM244 1338h1v9h-1zM243 1338h1v10h-1zM246 1338h1v11h-1zM235 1339h1v9h-1zM247 1339h1v10h-1zM189 1340h1v10h-1zM185 1340h2v15h-2zM355 1344h1v18h-1zM353 1345h1v22h-1zM359 1345h1v23h-1zM401 1347h1v7h-1zM400 1352h1v19h-1zM396 1354h1v19h-1zM397 1356h1v7h-1zM398 1357h1v8h-1zM393 1357h1v9h-1zM395 1357h1v9h-1zM399 1357h1v15h-1zM357 1359h1v22h-1zM356 1360h1v15h-1zM358 1361h1v3h-1zM394 1361h1v6h-1zM362 1365h1v7h-1zM360 1365h1v13h-1zM361 1371h1v4h-1z" fill="#00f"/>
<line x1="182.5" y1="867" x2="182.5" y2="1402" stroke="#000" stroke-width="1" stroke-dasharray="1 4"/>
<line x1="209.5" y1="865" x2="209.5" y2="1402" stroke="#000" stroke-width="1" stroke-dasharray="1 4"/>
<line x1="236.5" y1="868" x2="236.5" y2="1402" stroke="#000" stroke-width="1" stroke-dasharray="1 4"/>
<line x1="263.5" y1="866" x2="263.5" y2="1402" stroke="#000" stroke-width="1" stroke-dasharray="1 4"/>
<line x1="290.5" y1="869" x2="290.5" y2="1402" stroke="#000" stroke-width="1" stroke-dasharray="1 4"/>
<line x1="316.5" y1="867" x2="316.5" y2="1402" stroke="#000" stroke-width="1" stroke-dasharray="1 4"/>
<line x1="343.5" y1="865" x2="343.5" y2="1402" stroke="#000" stroke-width="1" stroke-dasharray="1 4"/>
<line x1="370.5" y1="868" x2="370.5" y2="1402" stroke="#000" stroke-width="1" stroke-dasharray="1 4"/>
<line x1="397.5" y1="866" x2="397.5" y2="1402" stroke="#000" stroke-width="1" stroke-dasharray="1 4"/>
<line x1="424.5" y1="869" x2="424.5" y2="1402" stroke="#000" stroke-width="1" stroke-dasharray="1 4"/>
<line x1="450.5" y1="867" x2="450.5" y2="1402" stroke="#000" stroke-width="1" stroke-dasharray="1 4"/>
<line x1="477.5" y1="865" x2="477.5" y2="1402" stroke="#000" stroke-width="1" stroke-dasharray="1 4"/>
<line x1="504.5" y1="868" x2="504.5" y2="1402" stroke="#000" stroke-width="1" stroke-dasharray="1 4"/>
<line x1="531.5" y1="866" x2="531.5" y2="1402" stroke="#000" stroke-width="1" stroke-dasharray="1 4"/>
<rect x="156" y="864" width="403" height="1" fill="#000"/>
<rect x="156" y="1402" width="403" height="1" fill="#000"/>
<rect x="156" y="864" width="1" height="539" fill="#000"/>
<rect x="558" y="864" width="1" height="539" fill="#000"/>
<text x="150" y="873.5" text-anchor="end" font-size="25">3</text>
<text x="150" y="962.5" text-anchor="end" font-size="25">2.5</text>
<text x="150" y="1052.5" text-anchor="end" font-size="25">2</text>
<text x="150" y="1142.5" text-anchor="end" font-size="25">1.5</text>
<text x="150" y="1231.5" text-anchor="end" font-size="25">1</text>
<text x="150" y="1321.5" text-anchor="end" font-size="25">0.5</text>
<text x="150" y="1411.5" text-anchor="end" font-size="25">0</text>
<text x="424.5" y="1432" text-anchor="middle" font-size="25">06:00</text>
<text x="203.8" y="1460.5" font-size="25" textLength="304.5" lengthAdjust="spacing">UT, from 05:50 to 06:05 UT</text>
<text x="356.0" y="843.5" text-anchor="middle" font-size="25">20120528 055029 S4 red(150MHz)</text>
<text x="98.7" y="1136.2" text-anchor="middle" font-size="25" transform="rotate(-90 98.7 1136.2)">S4</text>
<line x1="689" y1="1267.5" x2="1086" y2="1267.5" stroke="#000" stroke-width="1" stroke-dasharray="1 4"/>
<line x1="687" y1="1133.5" x2="1086" y2="1133.5" stroke="#000" stroke-width="1" stroke-dasharray="1 4"/>
<line x1="685" y1="999.5" x2="1086" y2="999.5" stroke="#000" stroke-width="1" stroke-dasharray="1 4"/>
<line x1="952.5" y1="867" x2="952.5" y2="1402" stroke="#000" stroke-width="1" stroke-dasharray="1 4"/>
<rect x="685" y="999" width="5" height="1" fill="#000"/>
<rect x="1081" y="999" width="5" height="1" fill="#000"/>
<rect x="685" y="1133" width="5" height="1" fill="#000"/>
<rect x="1081" y="1133" width="5" height="1" fill="#000"/>
<rect x="685" y="1267" width="5" height="1" fill="#000"/>
<rect x="1081" y="1267" width="5" height="1" fill="#000"/>
<rect x="685" y="1388" width="2" height="1" fill="#000"/>
<rect x="1084" y="1388" width="2" height="1" fill="#000"/>
<rect x="685" y="1374" width="2" height="1" fill="#000"/>
<rect x="1084" y="1374" width="2" height="1" fill="#000"/>
<rect x="685" y="1361" width="2" height="1" fill="#000"/>
<rect x="1084" y="1361" width="2" height="1" fill="#000"/>
<rect x="685" y="1347" width="2" height="1" fill="#000"/>
<rect x="1084" y="1347" width="2" height="1" fill="#000"/>
<rect x="685" y="1334" width="2" height="1" fill="#000"/>
<rect x="1084" y="1334" width="2" height="1" fill="#000"/>
<rect x="685" y="1320" width="2" height="1" fill="#000"/>
<rect x="1084" y="1320" width="2" height="1" fill="#000"/>
<rect x="685" y="1307" width="2" height="1" fill="#000"/>
<rect x="1084" y="1307" width="2" height="1" fill="#000"/>
<rect x="685" y="1293" width="2" height="1" fill="#000"/>
<rect x="1084" y="1293" width="2" height="1" fill="#000"/>
<rect x="685" y="1280" width="2" height="1" fill="#000"/>
<rect x="1084" y="1280" width="2" height="1" fill="#000"/>
<rect x="685" y="1253" width="2" height="1" fill="#000"/>
<rect x="1084" y="1253" width="2" height="1" fill="#000"/>
<rect x="685" y="1240" width="2" height="1" fill="#000"/>
<rect x="1084" y="1240" width="2" height="1" fill="#000"/>
<rect x="685" y="1226" width="2" height="1" fill="#000"/>
<rect x="1084" y="1226" width="2" height="1" fill="#000"/>
<rect x="685" y="1213" width="2" height="1" fill="#000"/>
<rect x="1084" y="1213" width="2" height="1" fill="#000"/>
<rect x="685" y="1199" width="2" height="1" fill="#000"/>
<rect x="1084" y="1199" width="2" height="1" fill="#000"/>
<rect x="685" y="1186" width="2" height="1" fill="#000"/>
<rect x="1084" y="1186" width="2" height="1" fill="#000"/>
<rect x="685" y="1173" width="2" height="1" fill="#000"/>
<rect x="1084" y="1173" width="2" height="1" fill="#000"/>
<rect x="685" y="1159" width="2" height="1" fill="#000"/>
<rect x="1084" y="1159" width="2" height="1" fill="#000"/>
<rect x="685" y="1146" width="2" height="1" fill="#000"/>
<rect x="1084" y="1146" width="2" height="1" fill="#000"/>
<rect x="685" y="1119" width="2" height="1" fill="#000"/>
<rect x="1084" y="1119" width="2" height="1" fill="#000"/>
<rect x="685" y="1105" width="2" height="1" fill="#000"/>
<rect x="1084" y="1105" width="2" height="1" fill="#000"/>
<rect x="685" y="1092" width="2" height="1" fill="#000"/>
<rect x="1084" y="1092" width="2" height="1" fill="#000"/>
<rect x="685" y="1078" width="2" height="1" fill="#000"/>
<rect x="1084" y="1078" width="2" height="1" fill="#000"/>
<rect x="685" y="1065" width="2" height="1" fill="#000"/>
<rect x="1084" y="1065" width="2" height="1" fill="#000"/>
<rect x="685" y="1052" width="2" height="1" fill="#000"/>
<rect x="1084" y="1052" width="2" height="1" fill="#000"/>
<rect x="685" y="1038" width="2" height="1" fill="#000"/>
<rect x="1084" y="1038" width="2" height="1" fill="#000"/>
<rect x="685" y="1025" width="2" height="1" fill="#000"/>
<rect x="1084" y="1025" width="2" height="1" fill="#000"/>
<rect x="685" y="1011" width="2" height="1" fill="#000"/>
<rect x="1084" y="1011" width="2" height="1" fill="#000"/>
<rect x="685" y="984" width="2" height="1" fill="#000"/>
<rect x="1084" y="984" width="2" height="1" fill="#000"/>
<rect x="685" y="971" width="2" height="1" fill="#000"/>
<rect x="1084" y="971" width="2" height="1" fill="#000"/>
<rect x="685" y="957" width="2" height="1" fill="#000"/>
<rect x="1084" y="957" width="2" height="1" fill="#000"/>
<rect x="685" y="944" width="2" height="1" fill="#000"/>
<rect x="1084" y="944" width="2" height="1" fill="#000"/>
<rect x="685" y="931" width="2" height="1" fill="#000"/>
<rect x="1084" y="931" width="2" height="1" fill="#000"/>
<rect x="685" y="917" width="2" height="1" fill="#000"/>
<rect x="1084" y="917" width="2" height="1" fill="#000"/>
<rect x="685" y="904" width="2" height="1" fill="#000"/>
<rect x="1084" y="904" width="2" height="1" fill="#000"/>
<rect x="685" y="890" width="2" height="1" fill="#000"/>
<rect x="1084" y="890" width="2" height="1" fill="#000"/>
<rect x="685" y="877" width="2" height="1" fill="#000"/>
<rect x="1084" y="877" width="2" height="1" fill="#000"/>
<rect x="952" y="1397" width="1" height="5" fill="#000"/>
<rect x="952" y="865" width="1" height="5" fill="#000"/>
<path d="M696 1384h1v18h-1zM697 1380h1v22h-1zM698 1385h1v17h-1zM699 1326h1v76h-1zM700 1326h1v66h-1zM701 1322h1v69h-1zM702 1322h1v69h-1zM703 1321h1v71h-1zM704 1333h1v65h-1zM705 1313h1v83h-1zM706 1329h1v67h-1zM707 1319h1v79h-1zM708 1323h1v74h-1zM709 1326h1v69h-1zM710 1318h1v75h-1zM711 1332h1v60h-1zM712 1332h1v62h-1zM713 1326h1v67h-1zM714 1330h1v67h-1zM715 1330h1v66h-1zM716 1333h1v60h-1zM717 1320h1v71h-1zM718 1317h1v76h-1zM719 1324h1v69h-1zM720 1324h1v69h-1zM721 1332h1v64h-1zM722 1325h1v74h-1zM723 1330h1v70h-1zM724 1334h1v63h-1zM725 1334h1v61h-1zM726 1335h1v57h-1zM727 1319h1v70h-1zM728 1326h1v68h-1zM729 1329h1v66h-1zM730 1329h1v66h-1zM731 1320h1v75h-1zM732 1335h1v57h-1zM733 1342h1v52h-1zM734 1339h1v56h-1zM735 1327h1v68h-1zM736 1344h1v53h-1zM737 1340h1v60h-1zM738 1345h1v52h-1zM739 1339h1v56h-1zM740 1343h1v52h-1zM741 1343h1v53h-1zM742 1338h1v56h-1zM743 1338h1v52h-1zM744 1331h1v65h-1zM745 1328h1v72h-1zM746 1331h1v64h-1zM747 1340h1v56h-1zM748 1343h1v50h-1zM749 1330h1v66h-1zM750 1340h1v56h-1zM751 1331h1v65h-1zM752 1330h1v64h-1zM753 1335h1v57h-1zM754 1346h1v49h-1zM755 1342h1v53h-1zM756 1344h1v53h-1zM757 1339h1v56h-1zM758 1344h1v53h-1zM759 1337h1v56h-1zM760 1344h1v51h-1zM761 1330h1v65h-1zM762 1341h1v52h-1zM763 1340h1v50h-1zM764 1348h1v45h-1zM765 1338h1v56h-1zM766 1351h1v43h-1zM767 1344h1v49h-1zM768 1350h1v47h-1zM769 1344h1v53h-1zM770 1344h1v53h-1zM771 1351h1v44h-1zM772 1342h1v51h-1zM773 1344h1v52h-1zM774 1349h1v43h-1zM775 1335h1v63h-1zM776 1343h1v55h-1zM777 1338h1v56h-1zM778 1343h1v52h-1zM779 1344h1v49h-1zM780 1349h1v43h-1zM781 1394h1v8h-1zM782 1396h1v6h-1zM783 1395h1v7h-1zM784 1397h1v5h-1zM785 1393h1v9h-1zM786 1398h1v4h-1zM787 1399h1v3h-1zM788 1397h1v5h-1zM789 1397h1v5h-1zM790 1399h1v3h-1zM791 1396h1v6h-1zM792 1399h1v3h-1zM793 1397h1v5h-1zM794 1396h1v6h-1zM795 1397h1v5h-1zM796 1398h1v4h-1zM797 1399h1v3h-1zM798 1398h1v4h-1zM799 1397h1v5h-1zM800 1399h1v3h-1zM801 1395h1v7h-1zM802 1398h1v4h-1zM803 1399h1v3h-1zM804 1399h1v3h-1zM805 1399h1v3h-1zM806 1399h1v3h-1zM807 1398h1v4h-1zM808 1396h1v6h-1zM809 1398h1v4h-1zM810 1398h1v4h-1zM811 1397h1v5h-1zM812 1396h1v6h-1zM813 1399h1v3h-1zM814 1399h1v3h-1zM815 1398h1v4h-1zM816 1397h1v5h-1zM817 1396h1v6h-1zM818 1398h1v4h-1zM819 1399h1v3h-1zM820 1399h1v3h-1zM821 1396h1v6h-1zM822 1398h1v4h-1zM823 1398h1v4h-1zM824 1399h1v3h-1zM825 1399h1v3h-1zM826 1399h1v3h-1zM827 1398h1v4h-1zM828 1399h1v3h-1zM829 1399h1v3h-1zM830 1398h1v4h-1zM831 1398h1v4h-1zM832 1399h1v3h-1zM833 1399h1v3h-1zM834 1398h1v4h-1zM835 1395h1v7h-1zM836 1399h1v3h-1zM837 1398h1v4h-1zM838 1399h1v3h-1zM839 1398h1v4h-1zM840 1399h1v3h-1zM841 1399h1v3h-1zM842 1398h1v4h-1zM843 1399h1v3h-1zM844 1397h1v5h-1zM845 1399h1v3h-1zM846 1392h1v10h-1zM847 1397h1v5h-1zM848 1399h1v3h-1zM849 1399h1v3h-1zM850 1399h1v3h-1zM851 1397h1v5h-1zM852 1397h1v5h-1zM853 1396h1v6h-1zM854 1399h1v3h-1zM855 1399h1v3h-1zM856 1394h1v8h-1zM857 1399h1v3h-1zM858 1398h1v4h-1zM859 1399h1v3h-1zM860 1396h1v6h-1zM861 1399h1v3h-1zM862 1399h1v3h-1zM863 1399h1v3h-1zM864 1398h1v4h-1zM865 1398h1v4h-1zM866 1399h1v3h-1zM867 1398h1v4h-1zM868 1398h1v4h-1zM869 1397h1v5h-1zM870 1397h1v5h-1zM871 1397h1v5h-1zM872 1396h1v6h-1zM873 1396h1v6h-1zM874 1393h1v9h-1zM875 1393h1v9h-1zM876 1393h1v9h-1zM877 1390h1v12h-1zM878 1389h1v13h-1zM879 1161h1v241h-1zM880 1011h1v335h-1zM881 1074h1v232h-1zM882 1172h1v167h-1zM883 1107h1v232h-1zM884 1038h1v296h-1zM885 1083h1v196h-1zM886 1138h1v182h-1zM887 1075h1v248h-1zM888 1103h1v174h-1zM889 1094h1v180h-1zM890 1045h1v243h-1zM891 1028h1v374h-1zM892 1389h1v13h-1zM893 1393h1v9h-1zM894 1395h1v7h-1zM895 1396h1v6h-1zM896 1397h1v5h-1zM897 1398h1v4h-1zM898 1393h1v9h-1zM899 1398h1v4h-1zM900 1395h1v7h-1zM901 1398h1v4h-1zM902 1392h1v10h-1zM903 1397h1v5h-1zM904 1398h1v4h-1zM905 1397h1v5h-1zM906 1395h1v7h-1zM907 1398h1v4h-1zM908 1398h1v4h-1zM909 1399h1v3h-1zM910 1398h1v4h-1zM911 1395h1v7h-1zM912 1398h1v4h-1zM913 1397h1v5h-1zM914 1391h1v11h-1zM915 1396h1v6h-1zM916 1397h1v5h-1zM917 1398h1v4h-1zM918 1372h1v30h-1zM919 1303h1v99h-1zM920 1309h1v60h-1zM921 1296h1v86h-1zM922 1296h1v71h-1zM923 1292h1v86h-1zM924 1282h1v85h-1zM925 1308h1v65h-1zM926 1290h1v75h-1zM927 1313h1v65h-1zM928 1317h1v52h-1zM929 1316h1v70h-1zM930 1353h1v49h-1zM931 1398h1v4h-1zM932 1398h1v4h-1zM933 1398h1v4h-1zM934 1397h1v5h-1zM935 1398h1v4h-1zM936 1398h1v4h-1zM937 1398h1v4h-1zM938 1398h1v4h-1zM939 1398h1v4h-1zM940 1398h1v4h-1zM941 1390h1v12h-1zM942 1392h1v10h-1zM943 1390h1v12h-1zM944 1390h1v12h-1zM945 1394h1v8h-1zM946 1396h1v6h-1zM947 1389h1v13h-1zM948 1395h1v7h-1zM949 1395h1v7h-1zM950 1393h1v9h-1zM951 1395h1v7h-1zM952 1395h1v7h-1zM953 1393h1v9h-1zM954 1396h1v6h-1zM955 1392h1v10h-1zM956 1394h1v8h-1zM957 1394h1v8h-1zM958 1393h1v9h-1zM959 1396h1v6h-1zM960 1395h1v7h-1zM961 1395h1v7h-1zM962 1395h1v7h-1zM963 1392h1v10h-1zM964 1395h1v7h-1zM965 1394h1v8h-1zM966 1393h1v9h-1zM967 1394h1v8h-1zM968 1394h1v8h-1zM969 1394h1v8h-1zM970 1392h1v10h-1zM971 1395h1v7h-1zM972 1394h1v8h-1zM973 1392h1v10h-1zM974 1392h1v10h-1zM975 1393h1v9h-1zM976 1385h1v17h-1zM977 1396h1v6h-1zM978 1394h1v8h-1zM979 1393h1v9h-1zM980 1394h1v8h-1zM981 1389h1v13h-1zM982 1394h1v8h-1zM983 1394h1v8h-1zM984 1395h1v7h-1zM985 1393h1v9h-1zM986 1390h1v12h-1zM987 1395h1v7h-1zM988 1394h1v8h-1zM989 1394h1v8h-1zM990 1394h1v8h-1zM991 1396h1v6h-1zM992 1395h1v7h-1zM993 1396h1v6h-1zM994 1397h1v5h-1zM995 1398h1v4h-1zM996 1398h1v4h-1zM997 1398h1v4h-1zM998 1398h1v4h-1zM999 1397h1v5h-1zM1000 1397h1v5h-1zM1001 1399h1v3h-1zM1002 1396h1v6h-1zM1003 1397h1v5h-1zM1004 1397h1v5h-1zM1005 1399h1v3h-1zM1006 1398h1v4h-1zM1007 1399h1v3h-1zM1008 1397h1v5h-1zM1009 1398h1v4h-1zM1010 1396h1v6h-1zM1011 1396h1v6h-1zM1012 1398h1v4h-1zM1013 1396h1v6h-1zM1014 1397h1v5h-1zM1015 1398h1v4h-1zM1016 1397h1v5h-1zM1017 1398h1v4h-1zM1018 1398h1v4h-1zM1019 1398h1v4h-1zM1020 1397h1v5h-1zM1021 1398h1v4h-1zM1022 1398h1v4h-1zM1023 1396h1v6h-1zM1024 1399h1v3h-1zM1025 1398h1v4h-1zM1026 1398h1v4h-1zM1027 1398h1v4h-1zM1028 1396h1v6h-1zM1029 1398h1v4h-1zM1030 1396h1v6h-1zM1031 1397h1v5h-1zM1032 1396h1v6h-1zM1033 1398h1v4h-1zM1034 1399h1v3h-1zM1035 1398h1v4h-1zM1036 1397h1v5h-1zM1037 1398h1v4h-1zM1038 1397h1v5h-1zM1039 1397h1v5h-1zM1040 1396h1v6h-1zM1041 1398h1v4h-1zM1042 1397h1v5h-1zM1043 1396h1v6h-1zM1044 1398h1v4h-1zM1045 1398h1v4h-1zM1046 1398h1v4h-1zM1047 1398h1v4h-1zM1048 1397h1v5h-1zM1049 1397h1v5h-1zM1050 1398h1v4h-1zM1051 1398h1v4h-1zM1052 1398h1v4h-1zM1053 1398h1v4h-1zM1054 1397h1v5h-1zM1055 1398h1v4h-1zM1056 1398h1v4h-1zM1057 1398h1v4h-1zM1058 1399h1v3h-1zM1059 1397h1v5h-1zM1060 1397h1v5h-1zM1061 1397h1v5h-1zM1062 1398h1v4h-1zM1063 1396h1v6h-1zM1064 1399h1v3h-1zM1065 1396h1v6h-1zM1066 1398h1v4h-1zM1067 1398h1v4h-1zM1068 1397h1v5h-1zM1069 1398h1v4h-1zM1070 1398h1v4h-1zM1071 1396h1v6h-1zM1072 1398h1v4h-1zM1073 1396h1v6h-1zM1074 1397h1v5h-1zM1075 1395h1v7h-1zM1076 1399h1v3h-1zM1077 1398h1v4h-1zM1078 1397h1v5h-1zM1079 1398h1v4h-1zM1080 1398h1v4h-1zM1081 1399h1v3h-1zM1082 1398h1v4h-1zM1083 1398h1v4h-1zM1084 1398h1v4h-1zM1085 1397h1v5h-1z" fill="#00f"/>
<path d="M700 1401h1v1h-1zM701 1401h1v1h-1zM702 1401h1v1h-1zM703 1401h1v1h-1zM704 1401h1v1h-1zM705 1401h1v1h-1zM706 1401h1v1h-1zM707 1401h1v1h-1zM708 1401h1v1h-1zM709 1401h1v1h-1zM710 1401h1v1h-1zM711 1401h1v1h-1zM712 1401h1v1h-1zM713 1401h1v1h-1zM714 1401h1v1h-1zM715 1401h1v1h-1zM716 1401h1v1h-1zM717 1401h1v1h-1zM718 1401h1v1h-1zM719 1401h1v1h-1zM720 1401h1v1h-1zM721 1401h1v1h-1zM722 1401h1v1h-1zM723 1401h1v1h-1zM724 1401h1v1h-1zM725 1401h1v1h-1zM726 1401h1v1h-1zM727 1401h1v1h-1zM728 1401h1v1h-1zM729 1401h1v1h-1zM730 1401h1v1h-1zM731 1401h1v1h-1zM732 1401h1v1h-1zM733 1401h1v1h-1zM734 1401h1v1h-1zM735 1401h1v1h-1zM736 1401h1v1h-1zM737 1401h1v1h-1zM738 1401h1v1h-1zM739 1401h1v1h-1zM740 1401h1v1h-1zM741 1401h1v1h-1zM742 1401h1v1h-1zM743 1401h1v1h-1zM744 1401h1v1h-1zM745 1401h1v1h-1zM746 1401h1v1h-1zM747 1401h1v1h-1zM748 1401h1v1h-1zM749 1401h1v1h-1zM750 1401h1v1h-1zM751 1401h1v1h-1zM752 1401h1v1h-1zM753 1401h1v1h-1zM754 1401h1v1h-1zM755 1401h1v1h-1zM756 1401h1v1h-1zM757 1401h1v1h-1zM758 1401h1v1h-1zM759 1401h1v1h-1zM760 1401h1v1h-1zM761 1401h1v1h-1zM762 1401h1v1h-1zM763 1401h1v1h-1zM764 1401h1v1h-1zM765 1401h1v1h-1zM766 1401h1v1h-1zM767 1401h1v1h-1zM768 1401h1v1h-1zM769 1401h1v1h-1zM770 1401h1v1h-1zM771 1401h1v1h-1zM772 1401h1v1h-1zM773 1401h1v1h-1zM774 1401h1v1h-1zM775 1401h1v1h-1zM776 1401h1v1h-1zM777 1401h1v1h-1zM778 1401h1v1h-1zM779 1401h1v1h-1zM878 1387h1v3h-1zM880 1362h1v24h-1zM881 1352h1v36h-1zM882 1355h1v28h-1zM883 1358h1v29h-1zM884 1362h1v29h-1zM885 1359h1v27h-1zM886 1369h1v22h-1zM887 1371h1v24h-1zM888 1372h1v20h-1zM889 1371h1v21h-1zM890 1376h1v18h-1zM892 1382h1v8h-1zM920 1389h1v9h-1zM921 1387h1v12h-1zM922 1389h1v9h-1zM923 1387h1v10h-1zM924 1385h1v13h-1zM925 1389h1v8h-1zM926 1387h1v12h-1zM927 1387h1v11h-1zM928 1389h1v8h-1zM929 1386h1v12h-1z" fill="#f00"/>
<line x1="710.5" y1="867" x2="710.5" y2="1402" stroke="#000" stroke-width="1" stroke-dasharray="1 4"/>
<line x1="737.5" y1="865" x2="737.5" y2="1402" stroke="#000" stroke-width="1" stroke-dasharray="1 4"/>
<line x1="764.5" y1="868" x2="764.5" y2="1402" stroke="#000" stroke-width="1" stroke-dasharray="1 4"/>
<line x1="791.5" y1="866" x2="791.5" y2="1402" stroke="#000" stroke-width="1" stroke-dasharray="1 4"/>
<line x1="818.5" y1="869" x2="818.5" y2="1402" stroke="#000" stroke-width="1" stroke-dasharray="1 4"/>
<line x1="844.5" y1="867" x2="844.5" y2="1402" stroke="#000" stroke-width="1" stroke-dasharray="1 4"/>
<line x1="871.5" y1="865" x2="871.5" y2="1402" stroke="#000" stroke-width="1" stroke-dasharray="1 4"/>
<line x1="898.5" y1="868" x2="898.5" y2="1402" stroke="#000" stroke-width="1" stroke-dasharray="1 4"/>
<line x1="925.5" y1="866" x2="925.5" y2="1402" stroke="#000" stroke-width="1" stroke-dasharray="1 4"/>
<line x1="952.5" y1="869" x2="952.5" y2="1402" stroke="#000" stroke-width="1" stroke-dasharray="1 4"/>
<line x1="978.5" y1="867" x2="978.5" y2="1402" stroke="#000" stroke-width="1" stroke-dasharray="1 4"/>
<line x1="1005.5" y1="865" x2="1005.5" y2="1402" stroke="#000" stroke-width="1" stroke-dasharray="1 4"/>
<line x1="1032.5" y1="868" x2="1032.5" y2="1402" stroke="#000" stroke-width="1" stroke-dasharray="1 4"/>
<line x1="1059.5" y1="866" x2="1059.5" y2="1402" stroke="#000" stroke-width="1" stroke-dasharray="1 4"/>
<rect x="684" y="864" width="403" height="1" fill="#000"/>
<rect x="684" y="1402" width="403" height="1" fill="#000"/>
<rect x="684" y="864" width="1" height="539" fill="#000"/>
<rect x="1086" y="864" width="1" height="539" fill="#000"/>
<text x="678" y="873.5" text-anchor="end" font-size="25">200</text>
<text x="678" y="1008.5" text-anchor="end" font-size="25">150</text>
<text x="678" y="1142.5" text-anchor="end" font-size="25">100</text>
<text x="678" y="1276.5" text-anchor="end" font-size="25">50</text>
<text x="678" y="1411.5" text-anchor="end" font-size="25">0</text>
<text x="952.5" y="1432" text-anchor="middle" font-size="25">06:00</text>
<text x="731.8" y="1460.5" font-size="25" textLength="304.5" lengthAdjust="spacing">UT, from 05:50 to 06:05 UT</text>
<text x="884.0" y="843.5" text-anchor="middle" font-size="25">20120528 055029 Amp red(150MHz)</text>
<text x="619.7" y="1134.2" text-anchor="middle" font-size="25" transform="rotate(-90 619.7 1134.2)">Amp</text>
</svg>
</body>
</html>
